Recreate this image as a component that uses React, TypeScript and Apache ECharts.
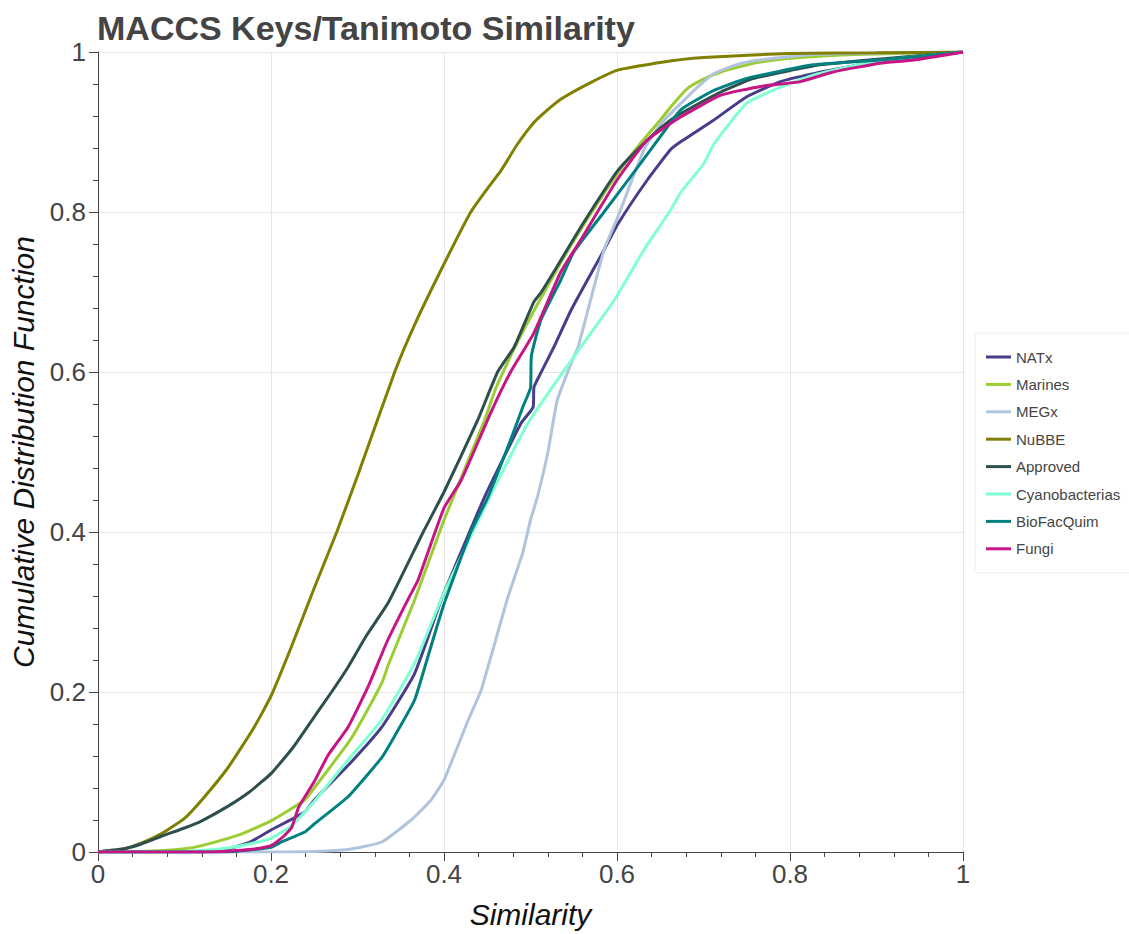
import React, { useEffect, useRef } from "react";
import * as echarts from "echarts";

const seriesNames = ["NATx", "Marines", "MEGx", "NuBBE", "Approved", "Cyanobacterias", "BioFacQuim", "Fungi"];
const seriesColors = ["#483D8B", "#9ACD32", "#B0C4DE", "#808000", "#2F4F4F", "#7FFFD4", "#008080", "#C71585"];
const xTicks = [0, 0.2, 0.4, 0.6, 0.8, 1];

const natx = [
  [0, 0], [0.12, 0], [0.147, 0.003], [0.175, 0.012], [0.2, 0.0275], [0.239, 0.05], [0.25, 0.065], [0.289, 0.108],
  [0.328, 0.156], [0.366, 0.223], [0.395, 0.31], [0.4, 0.324], [0.447, 0.444], [0.489, 0.536], [0.503, 0.556],
  [0.504, 0.581], [0.512, 0.599], [0.527, 0.631], [0.547, 0.6775], [0.585, 0.7525], [0.601, 0.785], [0.635, 0.84],
  [0.662, 0.878], [0.674, 0.888], [0.712, 0.915], [0.75, 0.944], [0.789, 0.963], [0.827, 0.973], [0.866, 0.981],
  [0.904, 0.988], [0.95, 0.994], [1, 1],
];
const marines = [
  [0, 0], [0.05, 0.0005], [0.1, 0.004], [0.12, 0.008], [0.162, 0.021], [0.2, 0.039], [0.239, 0.065], [0.25, 0.08],
  [0.289, 0.136], [0.3, 0.155], [0.328, 0.211], [0.336, 0.235], [0.366, 0.315], [0.4, 0.415], [0.447, 0.54],
  [0.46, 0.58], [0.486, 0.64], [0.532, 0.731], [0.565, 0.79], [0.601, 0.849], [0.625, 0.883], [0.647, 0.911],
  [0.665, 0.935], [0.681, 0.954], [0.7, 0.966], [0.72, 0.975], [0.758, 0.986], [0.797, 0.992], [0.874, 0.997], [1, 1],
];
const megx = [
  [0, 0], [0.2, 0], [0.25, 0.0005], [0.289, 0.003], [0.328, 0.0125], [0.362, 0.04], [0.385, 0.065], [0.4, 0.09],
  [0.428, 0.165], [0.443, 0.2025], [0.474, 0.319], [0.491, 0.374], [0.5, 0.415], [0.508, 0.444], [0.52, 0.499],
  [0.531, 0.565], [0.55, 0.619], [0.555, 0.631], [0.585, 0.7525], [0.601, 0.794], [0.631, 0.8775], [0.652, 0.912],
  [0.674, 0.936], [0.695, 0.958], [0.712, 0.973], [0.735, 0.983], [0.758, 0.989], [0.827, 0.997], [1, 1],
];
const nubbe = [
  [0, 0], [0.03, 0.004], [0.05, 0.011], [0.075, 0.024], [0.1, 0.042], [0.12, 0.065], [0.15, 0.105], [0.18, 0.155],
  [0.2, 0.195], [0.223, 0.255], [0.25, 0.33], [0.276, 0.4], [0.3, 0.47], [0.343, 0.6], [0.366, 0.659], [0.4, 0.735],
  [0.431, 0.8], [0.45, 0.829], [0.466, 0.852], [0.485, 0.885], [0.504, 0.912], [0.52, 0.928], [0.535, 0.941],
  [0.57, 0.962], [0.6, 0.977], [0.65, 0.987], [0.7, 0.993], [0.8, 0.998], [0.9, 0.999], [1, 1],
];
const approved = [
  [0, 0], [0.03, 0.004], [0.05, 0.01], [0.074, 0.02], [0.1, 0.03], [0.12, 0.039], [0.15, 0.057], [0.175, 0.075],
  [0.2, 0.098], [0.225, 0.13], [0.25, 0.169], [0.27, 0.2], [0.289, 0.231], [0.31, 0.27], [0.336, 0.3125],
  [0.376, 0.4], [0.4, 0.45], [0.439, 0.54], [0.462, 0.6], [0.481, 0.631], [0.504, 0.688], [0.512, 0.699],
  [0.533, 0.736], [0.558, 0.781], [0.601, 0.852], [0.639, 0.894], [0.662, 0.915], [0.681, 0.9275], [0.72, 0.95],
  [0.758, 0.967], [0.835, 0.984], [0.912, 0.992], [1, 1],
];
const cyanobacterias = [
  [0, 0], [0.03, 0], [0.1, 0.001], [0.12, 0.002], [0.15, 0.005], [0.175, 0.01], [0.2, 0.017], [0.224, 0.033],
  [0.25, 0.063], [0.289, 0.115], [0.328, 0.165], [0.366, 0.236], [0.393, 0.306], [0.4, 0.324], [0.451, 0.44],
  [0.497, 0.536], [0.55, 0.619], [0.597, 0.69], [0.631, 0.7525], [0.662, 0.8025], [0.674, 0.825], [0.7, 0.86],
  [0.712, 0.885], [0.75, 0.936], [0.789, 0.956], [0.827, 0.971], [0.866, 0.981], [0.904, 0.989], [1, 1],
];
const bioFacQuim = [
  [0, 0], [0.15, 0], [0.2, 0.006], [0.212, 0.0125], [0.239, 0.025], [0.25, 0.035], [0.289, 0.069], [0.328, 0.118],
  [0.343, 0.145], [0.366, 0.19], [0.383, 0.25], [0.4, 0.31], [0.431, 0.4], [0.451, 0.444], [0.478, 0.518],
  [0.491, 0.556], [0.5, 0.58], [0.501, 0.62], [0.512, 0.665], [0.535, 0.715], [0.55, 0.75], [0.585, 0.8],
  [0.624, 0.856], [0.654, 0.9], [0.674, 0.928], [0.712, 0.952], [0.75, 0.967], [0.827, 0.984], [0.904, 0.99], [1, 1],
];
const fungi = [
  [0, 0], [0.13, 0], [0.15, 0.001], [0.175, 0.003], [0.2, 0.008], [0.215, 0.02], [0.224, 0.031], [0.232, 0.056],
  [0.25, 0.088], [0.266, 0.121], [0.289, 0.156], [0.312, 0.206], [0.335, 0.265], [0.358, 0.315], [0.37, 0.34],
  [0.4, 0.43], [0.42, 0.465], [0.454, 0.549], [0.477, 0.6], [0.504, 0.649], [0.535, 0.725], [0.558, 0.765],
  [0.6, 0.84], [0.635, 0.89], [0.674, 0.919], [0.72, 0.946], [0.766, 0.957], [0.812, 0.963], [0.85, 0.975],
  [0.904, 0.986], [0.943, 0.99], [1, 1],
];

const seriesData = [natx, marines, megx, nubbe, approved, cyanobacterias, bioFacQuim, fungi];

export default function App() {
  const ref = useRef<HTMLDivElement>(null);
  useEffect(() => {
    if (!ref.current) return;
    const chart = echarts.init(ref.current, null, { renderer: "svg" });
    const font = "'Liberation Sans', Arial, sans-serif";
    chart.setOption({
      animation: false,
      backgroundColor: "#ffffff",
      title: {
        text: "MACCS Keys/Tanimoto Similarity",
        left: 92,
        top: 6,
        textStyle: { fontFamily: font, fontSize: 34, fontWeight: "bold", color: "#444444" },
      },
      legend: {
        orient: "vertical",
        left: 975,
        top: 333,
        padding: [16, 10, 16, 11],
        backgroundColor: "#ffffff",
        borderColor: "#eeeeee",
        borderWidth: 1,
        icon: "rect",
        itemWidth: 25,
        itemHeight: 3,
        itemGap: 11.4,
        textStyle: { fontFamily: font, fontSize: 15, color: "#444444", lineHeight: 16 },
        data: seriesNames,
      },
      grid: { left: 96, right: 166, top: 52, bottom: 82, containLabel: false },
      xAxis: {
        type: "value",
        min: 0,
        max: 1,
        interval: 0.2,
        name: "Similarity",
        nameLocation: "middle",
        nameGap: 47,
        nameTextStyle: { fontFamily: font, fontSize: 30, fontStyle: "italic", color: "#111111" },
        axisLine: { show: true, lineStyle: { color: "#444444", width: 1 } },
        axisTick: { show: true, length: 9, lineStyle: { color: "#444444" } },
        minorTick: { show: true, splitNumber: 5, length: 5, lineStyle: { color: "#444444" } },
        axisLabel: {
          fontFamily: font,
          fontSize: 26,
          color: "#444444",
          margin: 9,
          formatter: (v: number) => String(xTicks.find((t) => Math.abs(t - v) < 1e-9) ?? v),
        },
        splitLine: { show: true, lineStyle: { color: "#e6e6e6", width: 1 } },
      },
      yAxis: {
        type: "value",
        min: 0,
        max: 1,
        interval: 0.2,
        name: "Cumulative Distribution Function",
        nameLocation: "middle",
        nameGap: 60,
        nameTextStyle: { fontFamily: font, fontSize: 30, fontStyle: "italic", color: "#111111" },
        axisLine: { show: true, lineStyle: { color: "#444444", width: 1 } },
        axisTick: { show: true, length: 9, lineStyle: { color: "#444444" } },
        minorTick: { show: true, splitNumber: 5, length: 5, lineStyle: { color: "#444444" } },
        axisLabel: {
          fontFamily: font,
          fontSize: 26,
          color: "#444444",
          margin: 12,
          formatter: (v: number) => String(Math.round(v * 10) / 10),
        },
        splitLine: { show: true, lineStyle: { color: "#e6e6e6", width: 1 } },
      },
      series: seriesNames.map((name, i) => ({
        name,
        type: "line",
        data: seriesData[i],
        symbol: "none",
        smooth: 0.15,
        color: seriesColors[i],
        lineStyle: { width: 3, color: seriesColors[i] },
        z: 2 + i,
      })),
    });
    return () => chart.dispose();
  }, []);
  return (
    <div
      ref={ref}
      style={{ position: "fixed", left: 0, top: 0, width: 1129, height: 934 }}
    />
  );
}
